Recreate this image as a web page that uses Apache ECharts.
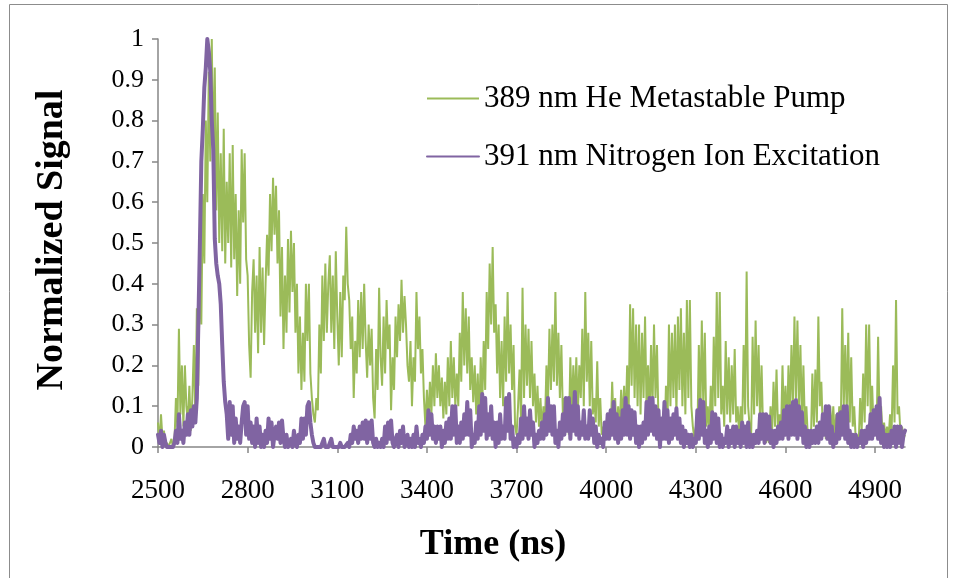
<!DOCTYPE html>
<html>
<head>
<meta charset="utf-8">
<script src="https://cdn.jsdelivr.net/npm/echarts@6/dist/echarts.min.js"></script>
<style>
  html, body { margin: 0; padding: 0; background: #ffffff; }
  #chart { width: 955px; height: 578px; }
</style>
</head>
<body>
<div id="chart"></div>
<script>
// Sampling grid of the time traces (ns)
const timeStart = 2500;
const timeStep = 5;

// Tick positions on the time axis
const timeTicks = [2500, 2800, 3100, 3400, 3700, 4000, 4300, 4600, 4900];

// 389 nm He metastable pump signal (normalized), one value per 5 ns from 2500 ns
const heliumPump = [
  0.06,0.01,0.08,0.02,0.04,0.00,0.01,0.00,0.00,0.02,0.00,0.01,0.12,0.05,0.29,0.08,0.20,0.05,0.20,0.10,
  0.06,0.15,0.04,0.12,0.25,0.08,0.34,0.15,0.45,0.30,0.62,0.45,0.80,0.60,0.92,0.70,1.00,0.68,0.93,0.58,
  0.82,0.50,0.72,0.48,0.78,0.45,0.65,0.50,0.72,0.44,0.74,0.46,0.62,0.37,0.58,0.40,0.73,0.55,0.72,0.46,
  0.42,0.25,0.17,0.38,0.46,0.28,0.42,0.23,0.49,0.28,0.44,0.25,0.40,0.52,0.42,0.62,0.48,0.66,0.52,0.64,
  0.45,0.58,0.32,0.49,0.24,0.42,0.28,0.51,0.33,0.53,0.38,0.50,0.28,0.40,0.18,0.32,0.14,0.28,0.16,0.40,
  0.26,0.40,0.18,0.12,0.08,0.06,0.12,0.09,0.30,0.18,0.42,0.26,0.45,0.28,0.40,0.47,0.28,0.42,0.24,0.48,
  0.32,0.20,0.38,0.22,0.42,0.36,0.54,0.40,0.36,0.24,0.32,0.12,0.26,0.18,0.36,0.22,0.38,0.24,0.40,0.26,
  0.17,0.30,0.20,0.29,0.12,0.07,0.24,0.14,0.39,0.22,0.15,0.32,0.18,0.36,0.24,0.30,0.09,0.22,0.14,0.32,
  0.22,0.35,0.26,0.41,0.28,0.37,0.30,0.20,0.16,0.26,0.10,0.22,0.16,0.38,0.24,0.32,0.18,0.24,0.12,0.05,
  0.14,0.06,0.16,0.08,0.20,0.10,0.23,0.12,0.20,0.10,0.17,0.07,0.16,0.08,0.22,0.10,0.26,0.12,0.22,0.10,
  0.18,0.10,0.28,0.16,0.38,0.20,0.34,0.18,0.32,0.14,0.22,0.11,0.20,0.08,0.18,0.06,0.22,0.10,0.26,0.14,
  0.38,0.24,0.45,0.30,0.49,0.28,0.35,0.18,0.30,0.12,0.26,0.10,0.32,0.16,0.38,0.18,0.30,0.14,0.25,0.05,
  0.03,0.10,0.19,0.06,0.39,0.12,0.30,0.15,0.29,0.12,0.26,0.10,0.18,0.06,0.15,0.05,0.12,0.04,0.10,0.05,
  0.20,0.10,0.29,0.14,0.30,0.16,0.38,0.15,0.28,0.12,0.25,0.08,0.12,0.04,0.08,0.03,0.22,0.08,0.20,0.10,
  0.22,0.08,0.20,0.12,0.29,0.10,0.38,0.16,0.28,0.10,0.26,0.08,0.12,0.06,0.21,0.05,0.12,0.03,0.05,0.02,
  0.05,0.02,0.08,0.03,0.16,0.05,0.12,0.03,0.10,0.04,0.14,0.06,0.15,0.05,0.20,0.08,0.35,0.15,0.34,0.12,
  0.30,0.10,0.30,0.08,0.28,0.12,0.32,0.10,0.20,0.06,0.25,0.10,0.30,0.12,0.25,0.06,0.05,0.02,0.04,0.02,
  0.15,0.05,0.30,0.10,0.28,0.12,0.30,0.08,0.32,0.14,0.34,0.10,0.28,0.08,0.36,0.12,0.36,0.10,0.05,0.02,
  0.05,0.02,0.25,0.08,0.31,0.10,0.28,0.05,0.10,0.03,0.15,0.05,0.27,0.10,0.38,0.12,0.38,0.08,0.15,0.05,
  0.26,0.08,0.22,0.06,0.20,0.08,0.24,0.06,0.10,0.03,0.10,0.04,0.25,0.08,0.43,0.10,0.05,0.02,0.27,0.08,
  0.31,0.10,0.25,0.06,0.20,0.04,0.02,0.01,0.03,0.01,0.10,0.03,0.16,0.05,0.19,0.04,0.08,0.03,0.20,0.06,
  0.15,0.04,0.20,0.08,0.25,0.10,0.32,0.12,0.31,0.10,0.25,0.06,0.20,0.05,0.10,0.02,0.03,0.01,0.18,0.05,
  0.19,0.06,0.32,0.10,0.16,0.04,0.08,0.02,0.05,0.02,0.10,0.03,0.10,0.02,0.08,0.03,0.10,0.04,0.34,0.10,
  0.25,0.08,0.28,0.06,0.22,0.05,0.10,0.02,0.03,0.01,0.12,0.04,0.18,0.06,0.30,0.10,0.30,0.08,0.15,0.04,
  0.08,0.03,0.27,0.06,0.10,0.03,0.06,0.02,0.05,0.02,0.08,0.03,0.20,0.06,0.36,0.08,0.10,0.03,0.05,0.02,
  0.03
];

// 391 nm nitrogen ion excitation signal (normalized), same time grid
const nitrogenIon = [
  0.03,0.01,0.04,0.00,0.03,0.01,0.00,0.00,0.00,0.00,0.00,0.01,0.04,0.01,0.08,0.02,0.04,0.01,0.06,0.03,
  0.08,0.03,0.09,0.05,0.10,0.06,0.12,0.30,0.49,0.70,0.78,0.88,0.93,1.00,0.97,0.92,0.80,0.73,0.51,0.45,
  0.42,0.40,0.35,0.25,0.16,0.11,0.08,0.02,0.11,0.03,0.10,0.01,0.07,0.02,0.05,0.01,0.06,0.10,0.11,0.03,
  0.10,0.02,0.06,0.01,0.05,0.00,0.07,0.01,0.05,0.00,0.03,0.00,0.04,0.01,0.07,0.02,0.06,0.00,0.03,0.05,
  0.02,0.06,0.01,0.065,0.02,0.00,0.03,0.00,0.00,0.02,0.00,0.04,0.01,0.00,0.03,0.01,0.07,0.02,0.07,0.03,
  0.10,0.11,0.06,0.03,0.01,0.00,0.00,0.00,0.00,0.00,0.01,0.02,0.00,0.00,0.00,0.01,0.02,0.00,0.00,0.00,
  0.00,0.00,0.01,0.00,0.00,0.00,0.00,0.01,0.00,0.03,0.01,0.05,0.02,0.04,0.01,0.05,0.02,0.06,0.02,0.065,
  0.01,0.06,0.02,0.065,0.01,0.00,0.02,0.00,0.01,0.00,0.02,0.00,0.05,0.01,0.06,0.02,0.065,0.01,0.00,0.02,
  0.03,0.00,0.04,0.01,0.05,0.00,0.01,0.03,0.00,0.02,0.00,0.03,0.00,0.05,0.01,0.02,0.00,0.03,0.01,0.05,
  0.02,0.09,0.03,0.08,0.02,0.05,0.01,0.05,0.02,0.05,0.00,0.04,0.01,0.06,0.02,0.07,0.02,0.10,0.03,0.10,
  0.01,0.05,0.01,0.06,0.02,0.08,0.03,0.11,0.03,0.09,0.00,0.03,0.01,0.06,0.02,0.10,0.03,0.13,0.04,0.12,
  0.02,0.08,0.03,0.10,0.02,0.06,0.00,0.06,0.01,0.08,0.02,0.05,0.02,0.12,0.04,0.13,0.02,0.05,0.00,0.02,
  0.00,0.03,0.01,0.07,0.02,0.10,0.03,0.07,0.02,0.09,0.03,0.06,0.00,0.03,0.01,0.04,0.02,0.06,0.02,0.08,
  0.03,0.12,0.04,0.10,0.03,0.10,0.01,0.04,0.00,0.06,0.02,0.08,0.03,0.12,0.04,0.12,0.02,0.10,0.04,0.135,
  0.03,0.10,0.02,0.06,0.03,0.09,0.02,0.05,0.02,0.09,0.03,0.07,0.01,0.05,0.00,0.03,0.01,0.02,0.00,0.06,
  0.02,0.08,0.02,0.09,0.03,0.11,0.02,0.08,0.01,0.07,0.02,0.09,0.03,0.12,0.03,0.10,0.02,0.09,0.03,0.085,
  0.01,0.05,0.00,0.05,0.01,0.06,0.02,0.11,0.03,0.12,0.04,0.12,0.03,0.10,0.02,0.09,0.00,0.07,0.02,0.11,
  0.02,0.09,0.01,0.07,0.02,0.08,0.03,0.095,0.02,0.07,0.01,0.05,0.00,0.04,0.01,0.03,0.00,0.03,0.00,0.02,
  0.01,0.09,0.02,0.115,0.03,0.11,0.01,0.04,0.00,0.05,0.01,0.085,0.02,0.08,0.01,0.07,0.00,0.03,0.00,0.02,
  0.01,0.05,0.00,0.04,0.01,0.05,0.00,0.05,0.01,0.04,0.00,0.06,0.01,0.05,0.00,0.06,0.00,0.03,0.00,0.03,
  0.01,0.04,0.01,0.08,0.02,0.08,0.01,0.08,0.02,0.075,0.01,0.04,0.00,0.04,0.01,0.05,0.02,0.06,0.02,0.09,
  0.03,0.10,0.02,0.10,0.03,0.11,0.03,0.115,0.02,0.10,0.03,0.085,0.01,0.05,0.00,0.04,0.00,0.04,0.01,0.04,
  0.01,0.05,0.01,0.06,0.02,0.08,0.03,0.10,0.02,0.10,0.01,0.05,0.00,0.03,0.01,0.08,0.02,0.085,0.03,0.10,
  0.02,0.10,0.01,0.04,0.00,0.03,0.00,0.03,0.00,0.02,0.01,0.04,0.00,0.04,0.01,0.05,0.02,0.08,0.02,0.09,
  0.03,0.10,0.02,0.12,0.01,0.05,0.00,0.03,0.00,0.03,0.00,0.04,0.01,0.05,0.00,0.05,0.01,0.05,0.00,0.03,
  0.04
];

const toPairs = (values) => values.map((v, i) => [timeStart + i * timeStep, v]);

const serif = '"Liberation Serif", "Times New Roman", serif';
const axisGrey = '#868686';

const chart = echarts.init(document.getElementById('chart'), null, { renderer: 'canvas' });

chart.setOption({
  animation: false,
  backgroundColor: '#ffffff',
  grid: { left: 158, right: 50, top: 39, bottom: 131, containLabel: false },
  legend: {
    orient: 'vertical',
    left: 426,
    top: 83,
    padding: 0,
    itemWidth: 52,
    itemHeight: 14,
    itemGap: 27,
    itemStyle: { opacity: 0, borderWidth: 0 },
    textStyle: { fontFamily: serif, fontSize: 31, color: '#000000', lineHeight: 31 },
    data: ['389 nm He Metastable Pump', '391 nm Nitrogen Ion Excitation']
  },
  xAxis: {
    type: 'value',
    min: 2500,
    max: 5000,
    splitLine: { show: false },
    axisLine: { show: true, onZero: false, lineStyle: { color: axisGrey, width: 1.5 } },
    axisTick: { show: true, length: 6, customValues: timeTicks, lineStyle: { color: axisGrey, width: 1.5 } },
    axisLabel: {
      customValues: timeTicks,
      margin: 30,
      fontFamily: serif,
      fontSize: 27,
      color: '#000000',
      formatter: (v) => String(v)
    }
  },
  yAxis: {
    type: 'value',
    min: 0,
    max: 1,
    interval: 0.1,
    splitLine: { show: false },
    axisLine: { show: true, lineStyle: { color: axisGrey, width: 1.5 } },
    axisTick: { show: true, length: 6, lineStyle: { color: axisGrey, width: 1.5 } },
    axisLabel: { margin: 14, fontFamily: serif, fontSize: 26, color: '#000000' }
  },
  graphic: [
    {
      type: 'text',
      x: 493,
      y: 545,
      style: {
        text: 'Time (ns)',
        font: 'bold 36px ' + serif,
        fill: '#000000',
        align: 'center',
        verticalAlign: 'middle'
      }
    },
    {
      type: 'text',
      x: 52,
      y: 240,
      rotation: Math.PI / 2,
      style: {
        text: 'Normalized Signal',
        font: 'bold 38px ' + serif,
        fill: '#000000',
        align: 'center',
        verticalAlign: 'middle'
      }
    },
    {
      type: 'polyline',
      shape: { points: [[9.5, 600], [9.5, 4.5], [947.5, 4.5], [947.5, 600]] },
      style: { stroke: '#8c8c8c', lineWidth: 1, fill: null }
    }
  ],
  series: [
    {
      name: '389 nm He Metastable Pump',
      type: 'line',
      data: toPairs(heliumPump),
      showSymbol: false,
      symbol: 'none',
      sampling: null,
      color: '#9BBB59',
      lineStyle: { color: '#9BBB59', width: 2 }
    },
    {
      name: '391 nm Nitrogen Ion Excitation',
      type: 'line',
      data: toPairs(nitrogenIon),
      showSymbol: false,
      symbol: 'none',
      sampling: null,
      color: '#8064A2',
      lineStyle: { color: '#8064A2', width: 4, join: 'round', cap: 'round' }
    }
  ]
});
</script>
</body>
</html>
